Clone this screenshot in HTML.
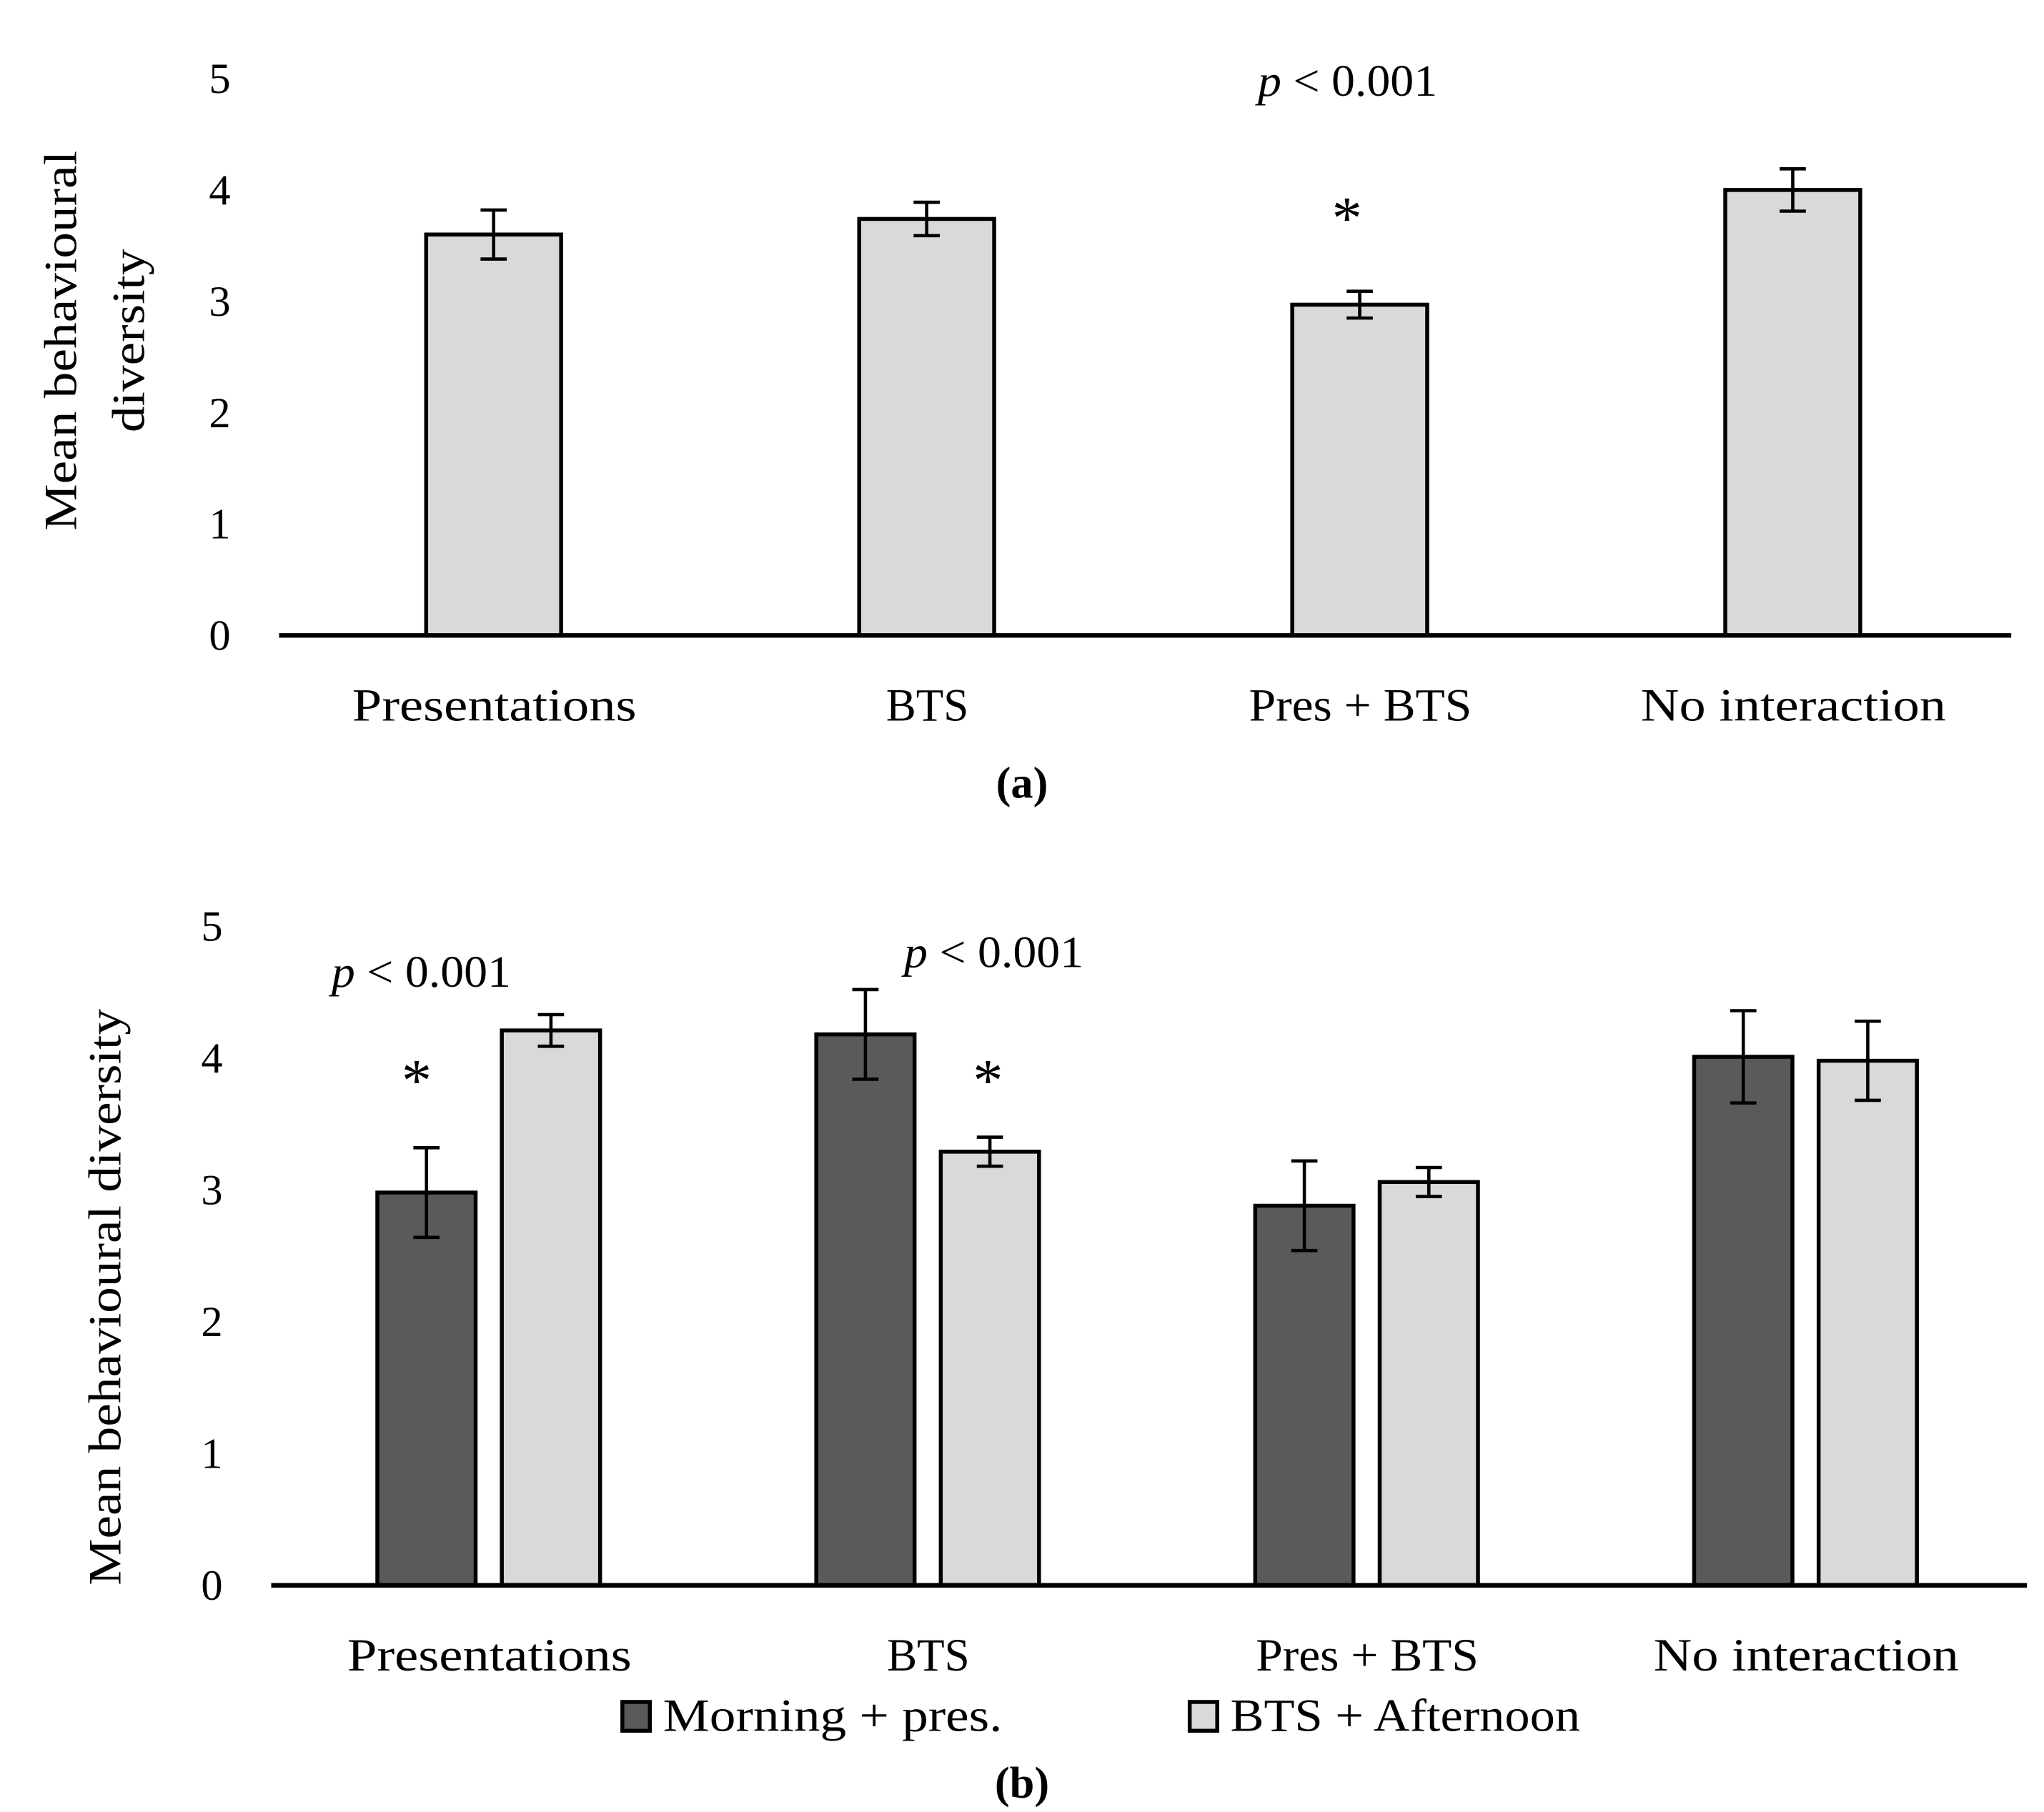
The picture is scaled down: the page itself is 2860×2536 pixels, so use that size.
<!DOCTYPE html>
<html><head><meta charset="utf-8">
<style>
html,body{margin:0;padding:0;background:#fff;}
svg{display:block;}
text{font-family:"Liberation Serif",serif;fill:#000;}
</style></head>
<body>
<svg id="fig" width="2860" height="2536" viewBox="0 0 1560 1383" preserveAspectRatio="none" xmlns="http://www.w3.org/2000/svg">
<g id="chartA"></g>
<g id="chartB"></g>
</svg>
<script>
const categories = ["Presentations","BTS","Pres + BTS","No interaction"];
const ticks = [0,1,2,3,4,5];
const aValues = [3.6,3.74,2.97,4.0];
const aErrors = [0.22,0.15,0.12,0.19];
const bMorning = [2.98,4.18,2.88,4.01];
const bMorningErr = [0.34,0.34,0.34,0.35];
const bAfternoon = [4.21,3.29,3.06,3.98];
const bAfternoonErr = [0.12,0.11,0.11,0.3];
const seriesNames = ["Morning + pres.","BTS + Afternoon"];
const labelLen = [217,63,170,233];

const NS="http://www.w3.org/2000/svg";
function mk(parent,tag,attrs,txt){const e=document.createElementNS(NS,tag);for(const k in attrs)e.setAttribute(k,attrs[k]);if(txt!==undefined)e.textContent=txt;parent.appendChild(e);return e;}

function errBar(g,cx,yTop,yBot,cap){
  const e=mk(g,'path',{d:`M${cx-cap} ${yTop}H${cx+cap}M${cx} ${yTop}V${yBot}M${cx-cap} ${yBot}H${cx+cap}`,stroke:'#000','stroke-width':2.5,fill:'none'});
  
  
}
function pLabel(g,x,y){
  const p=mk(g,'text',{x:x,y:y,'font-size':34,textLength:137,lengthAdjust:'spacingAndGlyphs'});
  
  
  mk(p,'tspan',{'font-style':'italic'},'p');
  mk(p,'tspan',{},' < 0.001');
}
function star(g,x,y){
  const s=mk(g,'text',{x:x,y:y,'text-anchor':'middle','font-size':46},'*');
  
  
}

// Chart A
(function(){
  const g=document.getElementById('chartA');
  const x0=213,x1=1535,y0=485,y5=60;
  const y=v=>y0-(v/5)*(y0-y5);
  const cw=(x1-x0)/categories.length;
  const cx=i=>x0+cw*(i+0.5);
  ticks.forEach(t=>{
    const e=mk(g,'text',{x:176,y:y(t)+11,'text-anchor':'end','font-size':33},String(t));
    
    
  });
  aValues.forEach((v,i)=>{
    const r=mk(g,'rect',{x:cx(i)-53,y:y(v),width:103,height:y0-y(v),fill:'#d9d9d9',stroke:'#000','stroke-width':3});
    
    
    errBar(g,cx(i)-1.5,y(v+aErrors[i]),y(v-aErrors[i]),10);
    const l=mk(g,'text',{x:cx(i)-1,y:550,'text-anchor':'middle','font-size':35,textLength:labelLen[i],lengthAdjust:'spacingAndGlyphs'},categories[i]);
    
    
  });
  const ax=mk(g,'line',{x1:x0,x2:x1,y1:y0,y2:y0,stroke:'#000','stroke-width':3.5});
  
  
  pLabel(g,960,73);
  star(g,1028,182);
  const t=mk(g,'text',{transform:'translate(58,260) rotate(-90)','text-anchor':'middle','font-size':35,textLength:290,lengthAdjust:'spacingAndGlyphs'},'Mean behavioural');
  
  
  const t2=mk(g,'text',{transform:'translate(110,260) rotate(-90)','text-anchor':'middle','font-size':35,textLength:140,lengthAdjust:'spacingAndGlyphs'},'diversity');
  
  
  const c=mk(g,'text',{x:780,y:609,'text-anchor':'middle','font-size':34,'font-weight':'bold'},'(a)');
  
  
})();

// Chart B
(function(){
  const g=document.getElementById('chartB');
  const x0=207,x1=1547,y0=1210,y5=707;
  const y=v=>y0-(v/5)*(y0-y5);
  const cw=(x1-x0)/categories.length;
  const cx=i=>x0+cw*(i+0.5);
  ticks.forEach(t=>{
    const e=mk(g,'text',{x:170,y:y(t)+11,'text-anchor':'end','font-size':33},String(t));
    
    
  });
  const series=[[bMorning,bMorningErr,'#5a5a5a',-49],[bAfternoon,bAfternoonErr,'#d9d9d9',46]];
  categories.forEach((cat,i)=>{
    series.forEach((s,k)=>{
      const v=s[0][i],er=s[1][i],c=cx(i)+s[3];
      const r=mk(g,'rect',{x:c-37.5,y:y(v),width:75,height:y0-y(v),fill:s[2],stroke:'#000','stroke-width':3});
      
      
      errBar(g,c,y(v+er),y(v-er),10);
    });
    const l=mk(g,'text',{x:cx(i)-1,y:1275,'text-anchor':'middle','font-size':35,textLength:labelLen[i],lengthAdjust:'spacingAndGlyphs'},cat);
    
    
  });
  const ax=mk(g,'line',{x1:x0,x2:x1,y1:y0,y2:y0,stroke:'#000','stroke-width':3.5});
  
  
  pLabel(g,253,753);
  pLabel(g,690,738);
  star(g,318,840);
  star(g,754,840);
  const t=mk(g,'text',{transform:'translate(92,990) rotate(-90)','text-anchor':'middle','font-size':35,textLength:440,lengthAdjust:'spacingAndGlyphs'},'Mean behavioural  diversity');
  
  
  const lg=[[475,'#5a5a5a',seriesNames[0],259],[908,'#d9d9d9',seriesNames[1],267]];
  lg.forEach(L=>{
    const r=mk(g,'rect',{x:L[0],y:1299,width:21,height:22,fill:L[1],stroke:'#000','stroke-width':3});
    
    
    const tx=mk(g,'text',{x:L[0]+31,y:1321,'font-size':35,textLength:L[3],lengthAdjust:'spacingAndGlyphs'},L[2]);
    
    
  });
  const c=mk(g,'text',{x:780,y:1372,'text-anchor':'middle','font-size':34,'font-weight':'bold'},'(b)');
  
  
})();
</script>
</body></html>
